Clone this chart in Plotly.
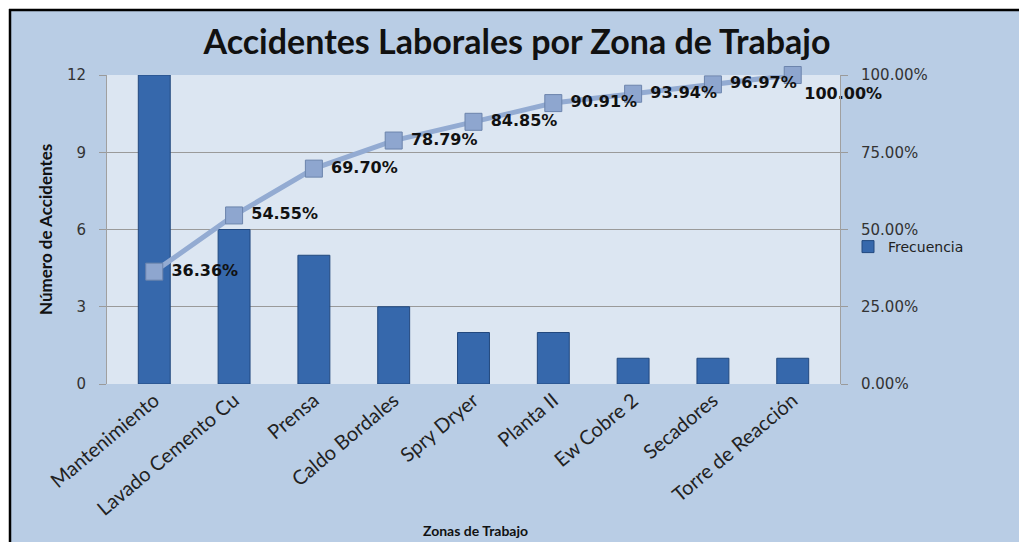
import plotly.graph_objects as go

# datos del diagrama de Pareto
zonas = ["Mantenimiento", "Lavado Cemento Cu", "Prensa", "Caldo Bordales", "Spry Dryer",
         "Planta II", "Ew Cobre 2", "Secadores", "Torre de Reacción"]
frecuencia = [12, 6, 5, 3, 2, 2, 1, 1, 1]
acumulado = [0.3636, 0.5455, 0.6970, 0.7879, 0.8485, 0.9091, 0.9394, 0.9697, 1.0]
etiquetas = ["36.36%", "54.55%", "69.70%", "78.79%", "84.85%", "90.91%", "93.94%", "96.97%", "100.00%"]

W, H = 1019, 542
L, R, T, B = 107, 840, 75, 384  # área de trazado en px


def px(x):
    return (x - L) / (R - L)


def py(y):
    return (B - y) / (B - T)


fig = go.Figure()

fig.add_trace(go.Bar(
    x=zonas, y=frecuencia, name="Frecuencia", width=0.4,
    marker=dict(color="#3668AC", line=dict(color="#22487E", width=1)),
))

fig.add_trace(go.Scatter(
    x=zonas, y=acumulado, yaxis="y2", mode="lines+markers+text",
    showlegend=False, text=["\u00a0" + e for e in etiquetas[:-1]] + [etiquetas[-1]],
    textposition=["middle right"] * 8 + ["bottom right"],
    textfont=dict(family="DejaVu Sans", size=16, color="#111111", weight="bold"),
    line=dict(color="#93ABD2", width=5),
    marker=dict(symbol="square", size=17, color="#8EA6CF",
                line=dict(color="#6C84AC", width=1)),
    cliponaxis=False,
))

fig.update_layout(
    width=W, height=H,
    margin=dict(l=L, r=W - R, t=T, b=H - B),
    paper_bgcolor="#B9CDE5",
    plot_bgcolor="#DCE6F2",
    title=dict(text="<b>Accidentes Laborales por Zona de Trabajo</b>",
               x=px(517), xanchor="center", xref="paper",
               y=1 - 42 / H, yanchor="middle",
               font=dict(family="Lato", size=34, color="#111111")),
    xaxis=dict(type="category", tickangle=-40, ticks="",
               tickfont=dict(family="Lato", size=20, color="#222222"),
               showline=False),
    yaxis=dict(range=[0, 12], dtick=3, ticks="outside", ticklen=7, tickcolor="#9A9A9A",
               ticklabelstandoff=10,
               showgrid=True, gridcolor="#9A9A9A", gridwidth=1,
               showline=True, linecolor="#A0A0A0", zeroline=False,
               tickfont=dict(family="DejaVu Sans", size=15, color="#333333")),
    yaxis2=dict(range=[0, 1], dtick=0.25, tickformat=".2%", overlaying="y", side="right",
                ticks="outside", ticklen=7, tickcolor="#9A9A9A", ticklabelstandoff=10,
                showgrid=False, showline=True, linecolor="#A0A0A0", zeroline=False,
                tickfont=dict(family="DejaVu Sans", size=15, color="#333333")),
    legend=dict(x=px(848), y=py(247), xanchor="left", yanchor="middle",
                bgcolor="rgba(0,0,0,0)",
                font=dict(family="DejaVu Sans", size=14, color="#222222")),
)

# ejes: títulos
fig.add_annotation(text="<b>Número de Accidentes</b>", xref="paper", yref="paper",
                   x=px(46), y=py(230), xanchor="center", yanchor="middle",
                   textangle=-90, showarrow=False,
                   font=dict(family="Lato", size=17, color="#111111"))
fig.add_annotation(text="<b>Zonas de Trabajo</b>", xref="paper", yref="paper",
                   x=px(475), y=py(530), xanchor="center", yanchor="middle",
                   showarrow=False,
                   font=dict(family="Lato", size=14, color="#111111"))

# franja blanca exterior y borde negro del área del gráfico
fig.add_shape(type="rect", xref="paper", yref="paper", x0=px(-20), x1=px(W + 20),
              y0=py(9), y1=py(-20), fillcolor="white", line_width=0, layer="above")
fig.add_shape(type="rect", xref="paper", yref="paper", x0=px(-20), x1=px(9),
              y0=py(H + 20), y1=py(-20), fillcolor="white", line_width=0, layer="above")
fig.add_shape(type="line", xref="paper", yref="paper", x0=px(9), x1=px(W + 20),
              y0=py(10), y1=py(10), line=dict(color="black", width=2.5), layer="above")
fig.add_shape(type="line", xref="paper", yref="paper", x0=px(10), x1=px(10),
              y0=py(9), y1=py(H + 20), line=dict(color="black", width=2.5), layer="above")

fig.write_html("out.html", config={"displayModeBar": False},
               post_script="document.body.style.margin='0';document.body.style.overflow='hidden';")
